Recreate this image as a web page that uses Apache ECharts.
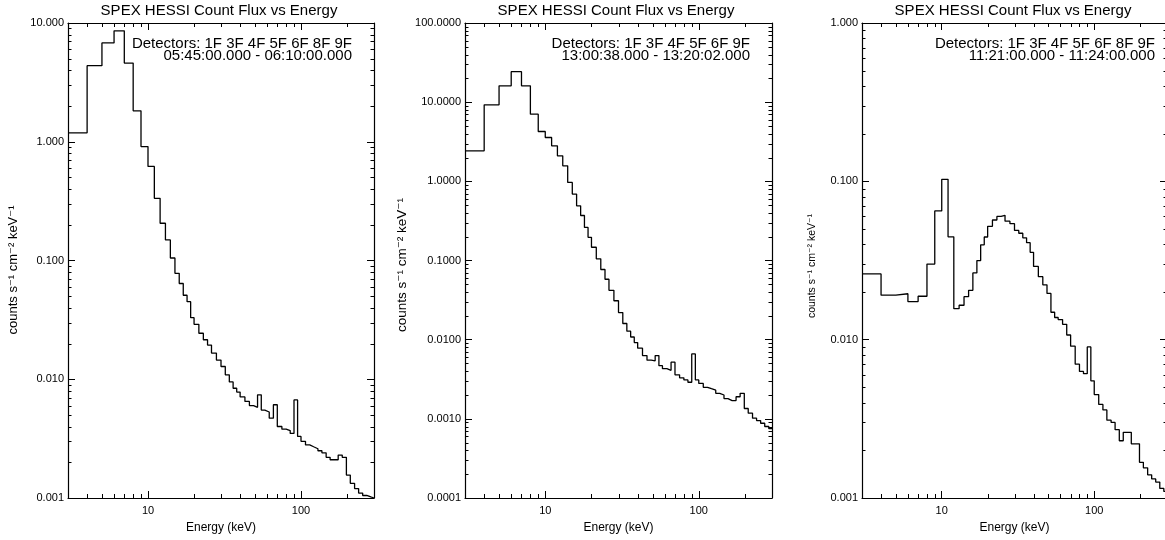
<!DOCTYPE html>
<html>
<head>
<meta charset="utf-8">
<script src="https://cdn.jsdelivr.net/npm/echarts@6/dist/echarts.min.js"></script>
<style>
  html, body { margin: 0; padding: 0; background: #ffffff; }
  #chart { width: 1165px; height: 540px; }
</style>
</head>
<body>
<div id="chart"></div>
<script>
// Lower/upper energy edges (keV) of the count-flux bins, shared by all three spectra
const ENERGY_EDGES = [3, 4, 5, 6, 7, 8, 9, 10, 11, 12, 13, 14, 15, 16, 17, 18, 19, 20,
  21.5, 23, 24.5, 26, 28, 30, 32, 34, 36, 38, 40, 43, 46, 49, 52, 55, 58, 62, 66, 70,
  75, 80, 85, 90, 95, 100, 107, 114, 121, 129, 137, 146, 155, 165, 175, 186, 198, 210,
  224, 238, 253, 269, 286, 300];

// Count flux per bin (counts s^-1 cm^-2 keV^-1), 05:45:00 - 06:10:00
const FLUX_0545 = [1.19, 4.37, 6.8, 8.6, 4.6, 1.82, 0.91, 0.62, 0.334, 0.206, 0.149, 0.105,
  0.078, 0.064, 0.051, 0.045, 0.033, 0.029, 0.0244, 0.0215, 0.0194, 0.0166, 0.0145, 0.0128,
  0.0109, 0.0095, 0.0084, 0.0078, 0.0071, 0.0065, 0.0060, 0.0058, 0.0074, 0.0055, 0.0053,
  0.0047, 0.0061, 0.0040, 0.0038, 0.0037, 0.0035, 0.0067, 0.0033, 0.0030, 0.0028, 0.0027,
  0.0026, 0.0025, 0.0024, 0.0022, 0.0021, 0.0021, 0.0023, 0.0022, 0.00156, 0.00133,
  0.00120, 0.00110, 0.00105, 0.00102, 0.00100];

// Count flux per bin, 13:00:38 - 13:20:02
const FLUX_1300 = [2.43, 9.25, 16.1, 24.3, 16.1, 7.06, 4.26, 3.58, 2.81, 2.10, 1.57, 0.97,
  0.69, 0.49, 0.37, 0.262, 0.196, 0.147, 0.105, 0.077, 0.058, 0.042, 0.031, 0.022, 0.0160,
  0.0128, 0.0108, 0.0092, 0.0078, 0.0063, 0.0055, 0.0054, 0.0063, 0.0047, 0.0043, 0.0041,
  0.0052, 0.0036, 0.0033, 0.0031, 0.0029, 0.0066, 0.0031, 0.0028, 0.0025, 0.0024, 0.0023,
  0.0021, 0.0020, 0.0018, 0.0017, 0.0017, 0.0019, 0.0021, 0.00135, 0.00118, 0.00102,
  0.00095, 0.00088, 0.00080, 0.00075];

// Count flux per bin, 11:21:00 - 11:24:00
const FLUX_1121 = [0.026, 0.0191, 0.0195, 0.0174, 0.0188, 0.030, 0.065, 0.103, 0.0446,
  0.0157, 0.0165, 0.0187, 0.0205, 0.0264, 0.0316, 0.0397, 0.0445, 0.052, 0.057, 0.060,
  0.061, 0.056, 0.054, 0.049, 0.047, 0.044, 0.041, 0.0356, 0.029, 0.025, 0.0222, 0.0196,
  0.0149, 0.0138, 0.0134, 0.0125, 0.0107, 0.0091, 0.0070, 0.0063, 0.0061, 0.0090, 0.0055,
  0.0045, 0.0039, 0.0036, 0.0031, 0.0030, 0.0027, 0.0023, 0.0026, 0.0026, 0.0022, 0.0022,
  0.00168, 0.00155, 0.00140, 0.00132, 0.00126, 0.00115, 0.00110];

const TITLE = 'SPEX HESSI Count Flux vs Energy';
const DETECTORS = ['Detectors: 1F 3F 4F 5F 6F 8F 9F', 'Detectors: 1F 3F 4F 5F 6F 9F', 'Detectors: 1F 3F 4F 5F 6F 8F 9F'];
const TIME_RANGES = ['05:45:00.000 - 06:10:00.000', '13:00:38.000 - 13:20:02.000', '11:21:00.000 - 11:24:00.000'];
const FLUXES = [FLUX_0545, FLUX_1300, FLUX_1121];
const X_RANGE = [3, 300];
const Y_RANGES = [[0.001, 10], [0.0001, 100], [0.001, 1]];
const Y_DECIMALS = [3, 4, 3];
const X_NAME = 'Energy (keV)';
const Y_NAME = 'counts s\u207B\u00B9 cm\u207B\u00B2 keV\u207B\u00B9';
const MINOR_STEPS = [2, 3, 4, 5, 6, 7, 8, 9];

// Page layout of the three plot boxes
const LAYOUT = [
  { left: 68,  width: 306, titleX: 219,  textRight: 352,  yNameX: 13,  yNameY: 270, yNameSize: 13 },
  { left: 465, width: 307, titleX: 616,  textRight: 750,  yNameX: 402, yNameY: 265, yNameSize: 13.5 },
  { left: 862, width: 305, titleX: 1013, textRight: 1155, yNameX: 812, yNameY: 266, yNameSize: 10.5 }
];
const TOP = 23, HEIGHT = 475;
const FONT = '"Liberation Sans", Arial, "DejaVu Sans", sans-serif';
const INK = '#000000';
const MAJOR_LEN = 7, MINOR_LEN = 3.5;

// Histogram outline: one point per lower bin edge plus the closing upper edge
function stepPoints(edges, values) {
  const pts = values.map((v, i) => [edges[i], v]);
  pts.push([edges[values.length], values[values.length - 1]]);
  return pts;
}

// 2..9 times each power of ten strictly inside [lo, hi]
function minorValues(lo, hi) {
  const out = [];
  for (let e = Math.floor(Math.log10(lo)); e <= Math.ceil(Math.log10(hi)); e++) {
    MINOR_STEPS.forEach(m => {
      const v = m * Math.pow(10, e);
      if (v > lo * 1.0001 && v < hi * 0.9999) out.push(v);
    });
  }
  return out;
}

function isDecade(v) {
  const l = Math.log10(v);
  return Math.abs(l - Math.round(l)) < 1e-6;
}

const grid = [], xAxis = [], yAxis = [], series = [], graphic = [];

LAYOUT.forEach((p, i) => {
  grid.push({ left: p.left, top: TOP, width: p.width, height: HEIGHT,
              containLabel: false, outerBoundsMode: 'none' });

  const axisLine = { show: true, onZero: false, lineStyle: { color: INK, width: 1.2 } };
  const tick = { show: true, inside: true, length: MAJOR_LEN, lineStyle: { color: INK, width: 1 } };
  const labelStyle = { color: INK, fontSize: 11, fontFamily: FONT };

  // bottom / top energy axes
  xAxis.push({
    type: 'log', logBase: 10, gridIndex: i, position: 'bottom',
    min: X_RANGE[0], max: X_RANGE[1],
    axisLine, axisTick: tick, splitLine: { show: false },
    axisLabel: Object.assign({ margin: 7, formatter: v => isDecade(v) ? String(Math.round(v)) : '' }, labelStyle),
    name: X_NAME, nameLocation: 'middle', nameGap: 24,
    nameTextStyle: { color: INK, fontSize: 12, fontFamily: FONT }
  });
  xAxis.push({
    type: 'log', logBase: 10, gridIndex: i, position: 'top',
    min: X_RANGE[0], max: X_RANGE[1],
    axisLine, axisTick: tick, axisLabel: { show: false }, splitLine: { show: false }
  });

  // left / right flux axes
  const yr = Y_RANGES[i], dec = Y_DECIMALS[i];
  yAxis.push({
    type: 'log', logBase: 10, gridIndex: i, position: 'left',
    min: yr[0], max: yr[1],
    axisLine, axisTick: tick, splitLine: { show: false },
    axisLabel: Object.assign({ margin: 4, formatter: v => isDecade(v) ? v.toFixed(dec) : '' }, labelStyle)
  });
  yAxis.push({
    type: 'log', logBase: 10, gridIndex: i, position: 'right',
    min: yr[0], max: yr[1],
    axisLine, axisTick: tick, axisLabel: { show: false }, splitLine: { show: false }
  });

  // spectrum
  series.push({
    type: 'line', xAxisIndex: 2 * i, yAxisIndex: 2 * i,
    data: stepPoints(ENERGY_EDGES, FLUXES[i]),
    step: 'end', symbol: 'none', silent: true, animation: false,
    lineStyle: { color: INK, width: 1.3 }
  });

  // minor ticks on left and right
  series.push({
    type: 'custom', xAxisIndex: 2 * i, yAxisIndex: 2 * i, silent: true, animation: false, clip: false,
    data: minorValues(yr[0], yr[1]).map(v => [X_RANGE[0], v]),
    renderItem: (params, api) => {
      const cs = params.coordSys;
      const y = Math.round(api.coord([api.value(0), api.value(1)])[1]) + 0.5;
      const st = { stroke: INK, lineWidth: 1 };
      return { type: 'group', children: [
        { type: 'line', shape: { x1: cs.x, y1: y, x2: cs.x + MINOR_LEN, y2: y }, style: st },
        { type: 'line', shape: { x1: cs.x + cs.width - MINOR_LEN, y1: y, x2: cs.x + cs.width, y2: y }, style: st }
      ] };
    }
  });

  // minor ticks on bottom and top
  series.push({
    type: 'custom', xAxisIndex: 2 * i, yAxisIndex: 2 * i, silent: true, animation: false, clip: false,
    data: minorValues(X_RANGE[0], X_RANGE[1]).map(v => [v, yr[0]]),
    renderItem: (params, api) => {
      const cs = params.coordSys;
      const x = Math.round(api.coord([api.value(0), api.value(1)])[0]) + 0.5;
      const st = { stroke: INK, lineWidth: 1 };
      return { type: 'group', children: [
        { type: 'line', shape: { x1: x, y1: cs.y + cs.height, x2: x, y2: cs.y + cs.height - MINOR_LEN - 0.5 }, style: st },
        { type: 'line', shape: { x1: x, y1: cs.y, x2: x, y2: cs.y + MINOR_LEN + 0.5 }, style: st }
      ] };
    }
  });

  // title, annotations and rotated flux-unit label
  graphic.push({ type: 'text', x: p.titleX, y: 11, silent: true,
    style: { text: TITLE, fill: INK, font: '15px ' + FONT, align: 'center', verticalAlign: 'middle' } });
  graphic.push({ type: 'text', x: p.textRight, y: 44, silent: true,
    style: { text: DETECTORS[i], fill: INK, font: '15px ' + FONT, align: 'right', verticalAlign: 'middle' } });
  graphic.push({ type: 'text', x: p.textRight, y: 56, silent: true,
    style: { text: TIME_RANGES[i], fill: INK, font: '15px ' + FONT, align: 'right', verticalAlign: 'middle' } });
  graphic.push({ type: 'text', x: p.yNameX, y: p.yNameY, rotation: Math.PI / 2, silent: true,
    style: { text: Y_NAME, fill: INK, font: p.yNameSize + 'px ' + FONT, align: 'center', verticalAlign: 'middle' } });
});

const chart = echarts.init(document.getElementById('chart'), null, { renderer: 'canvas' });
chart.setOption({
  backgroundColor: '#ffffff',
  animation: false,
  grid, xAxis, yAxis, series, graphic
});
</script>
</body>
</html>
